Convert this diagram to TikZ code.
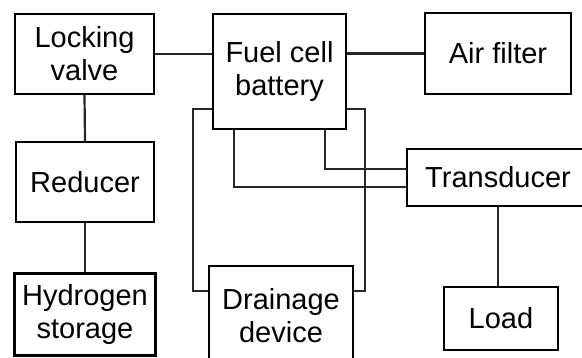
\documentclass[tikz,border=0pt]{standalone}
\usepackage{fontspec}
\setmainfont{Liberation Sans}
\begin{document}
\begin{tikzpicture}[x=1pt,y=-1pt,
  box/.style={draw,line width=2pt,align=center,inner sep=0pt,fill=white,
    font=\fontsize{29}{33}\selectfont},
  link/.style={line width=2.2pt,draw=black!85}]
\clip (0,0) rectangle (582,358);
\fill[white] (0,0) rectangle (582,358);
% boxes
\node[box,minimum width=139pt,minimum height=80pt] (lock) at (84.5,54) {Locking\\valve};
\node[box,minimum width=133pt,minimum height=115pt] (fc) at (279.5,71.5) {Fuel cell\\battery};
\node[box,minimum width=146pt,minimum height=81pt] (air) at (498,53.5) {Air filter};
\node[box,minimum width=138pt,minimum height=80pt] (red) at (85,182) {Reducer};
\node[box,line width=3.4pt,minimum width=141pt,minimum height=82pt] (hyd) at (85,314.5) {Hydrogen\\storage};
\node[box,minimum width=144pt,minimum height=100pt] (drain) at (281,316) {Drainage\\device};
\node[box,minimum width=182pt,minimum height=57pt] (trans) at (498,177.5) {Transducer};
\node[box,minimum width=114pt,minimum height=63pt] (load) at (501,318.5) {Load};
% connectors
\draw[link] (lock.east) -- (lock.east -| fc.west);
\draw[link] (air.west) -- (air.west -| fc.east);
\draw[link] (lock.south) -- (red.north);
\draw[link] (red.south) -- (hyd.north);
\draw[link] ([yshift=-37.5pt]fc.west) -| ([xshift=-15pt,yshift=25pt]drain.west) -- ([yshift=25pt]drain.west);
\draw[link] ([yshift=-37.5pt]fc.east) -| ([xshift=11pt,yshift=25pt]drain.east) -- ([yshift=25pt]drain.east);
\draw[link] ([xshift=45.5pt]fc.south) |- ([yshift=8.5pt]trans.west);
\draw[link] ([xshift=-45.5pt]fc.south) |- ([yshift=-9.5pt]trans.west);
\draw[link] (trans.south) -- (trans.south |- load.north);
\end{tikzpicture}
\end{document}
